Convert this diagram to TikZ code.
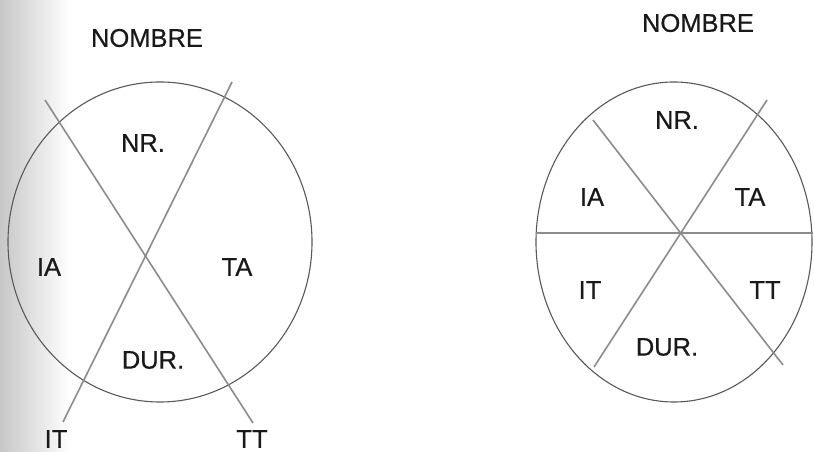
\documentclass[tikz,border=0pt]{standalone}
\usepackage{fontspec}
\newfontfamily\labfont[FakeBold=0.6]{Liberation Sans}
\begin{document}
\begin{tikzpicture}[x=1pt,y=1pt,
  lab/.style={inner sep=0pt,font=\labfont\fontsize{25.5}{26}\selectfont,text=black!90},
  ring/.style={draw=black!65,line width=1.1pt},
  divider/.style={draw=black!45,line width=1.6pt}]
\useasboundingbox (0,0) rectangle (814,452);
\shade[left color=black!22,right color=white] (0,0) rectangle (70,452);
\fill[white] (70,0) rectangle (814,452);
% left diagram
\draw[ring] (160,210) ellipse [x radius=152,y radius=160];
\coordinate (la1) at (45,352);
\coordinate (lb1) at (253,29);
\coordinate (la2) at (232,370);
\coordinate (lb2) at (63,30);
\draw[divider] (la1) -- (lb1);
\draw[divider] (la2) -- (lb2);
\node[lab] (lnombre) at (147,414) {NOMBRE};
\node[lab] (lnr) at (143,309) {NR.};
\node[lab] (lia) at (49,185) {IA};
\node[lab] (lta) at (237,185) {TA};
\node[lab] (ldur) at (153,92) {DUR.};
\node[lab] (lit) at (56,13) {IT};
\node[lab] (ltt) at (252,13) {TT};
% right diagram
\draw[ring] (674,210) ellipse [x radius=138,y radius=160];
\coordinate (ra1) at (593,332);
\coordinate (rb1) at (783,87);
\coordinate (ra2) at (767,352);
\coordinate (rb2) at (594,85);
\coordinate (rh1) at (536,219);
\coordinate (rh2) at (813,219);
\draw[divider] (ra1) -- (rb1);
\draw[divider] (ra2) -- (rb2);
\draw[divider] (rh1) -- (rh2);
\node[lab] (rnombre) at (698,429) {NOMBRE};
\node[lab] (rnr) at (677,332) {NR.};
\node[lab] (ria) at (592,255) {IA};
\node[lab] (rta) at (750,255) {TA};
\node[lab] (rit) at (590,162) {IT};
\node[lab] (rtt) at (765,162) {TT};
\node[lab] (rdur) at (667,105) {DUR.};
\end{tikzpicture}
\end{document}
